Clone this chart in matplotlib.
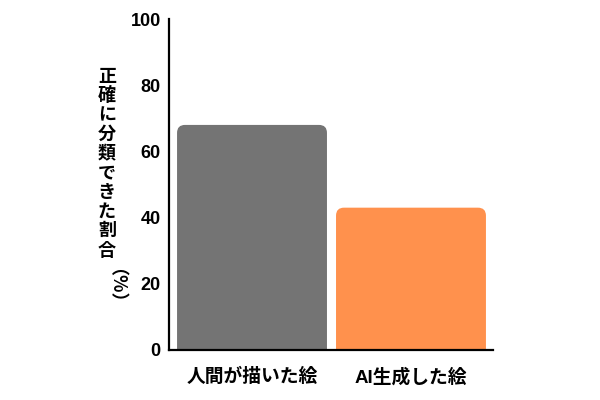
import matplotlib
matplotlib.use("Agg")
import matplotlib.pyplot as plt
from matplotlib.path import Path
from matplotlib.patches import PathPatch

plt.rcParams['font.family'] = ['Liberation Sans', 'Noto Sans CJK JP', 'DejaVu Sans']
plt.rcParams['font.weight'] = 'bold'

categories = ['人間が描いた絵', 'AI生成した絵']
values = [68, 43]
colors = ['#747474', '#FF914D']
yticks = [0, 20, 40, 60, 80, 100]
ylabel_main = '正確に分類できた割合'
ylabel_unit = '（%）'


def rounded_top(ax, bar, rx, ry, color):
    # replace a plain bar by one with rounded top corners (data units)
    x0, y0 = bar.get_x(), bar.get_y()
    x1, y1 = x0 + bar.get_width(), y0 + bar.get_height()
    verts = [
        (x0, y0), (x0, y1 - ry), (x0, y1), (x0 + rx, y1),
        (x1 - rx, y1), (x1, y1), (x1, y1 - ry), (x1, y0), (x0, y0),
    ]
    codes = [
        Path.MOVETO, Path.LINETO, Path.CURVE3, Path.CURVE3,
        Path.LINETO, Path.CURVE3, Path.CURVE3, Path.LINETO, Path.CLOSEPOLY,
    ]
    ax.add_patch(PathPatch(Path(verts, codes), facecolor=color,
                           edgecolor='none', zorder=2))
    bar.set_visible(False)


fig = plt.figure(figsize=(6, 4), dpi=100)
ax = fig.add_axes([0.2817, 0.125, 0.54, 0.8275])

x = list(range(len(categories)))
bars = ax.bar(x, values, width=0.943, color=colors)
for b, c in zip(bars, colors):
    rounded_top(ax, b, 0.05, 2.4, c)

ax.set_xlim(-0.522, 1.516)
ax.set_ylim(0, 100)
ax.set_yticks(yticks)
ax.set_xticks(x)
ax.set_xticklabels(categories, fontsize=13.5, fontweight='bold')
ax.tick_params(axis='y', length=0, pad=6, labelsize=13)
ax.tick_params(axis='x', length=0, pad=13)
for lab in ax.get_yticklabels():
    lab.set_fontweight('bold')

for s in ['top', 'right']:
    ax.spines[s].set_visible(False)
for s in ['left', 'bottom']:
    ax.spines[s].set_linewidth(1.6)
    ax.spines[s].set_color('black')

fig.text(0.178, 0.833, '\n'.join(ylabel_main), ha='center', va='top',
         fontsize=13, fontweight='bold', linespacing=1.02,
         family=['Noto Sans CJK JP'])
fig.text(0.178, 0.33, ylabel_unit, ha='center', va='top', rotation=-90,
         fontsize=13, fontweight='bold', family=['Noto Sans CJK JP'])

fig.savefig('out.png', dpi=100, facecolor='white')
